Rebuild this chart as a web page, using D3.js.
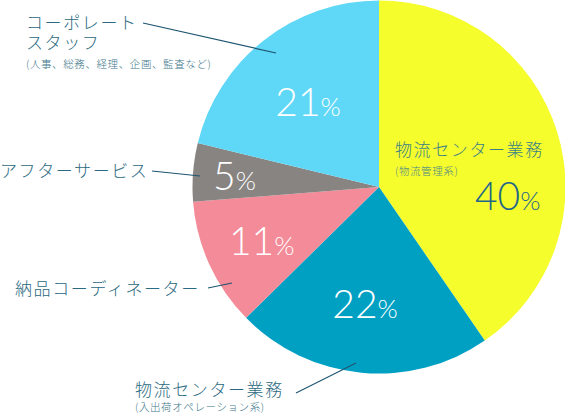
<!DOCTYPE html>
<html>
<head>
<meta charset="utf-8">
<script src="https://cdn.jsdelivr.net/npm/d3@7"></script>
<style>
  body { margin: 0; background: #fff; }
  svg { display: block; }
</style>
</head>
<body>
<div id="chart"></div>
<script>
// données
const categories = ["物流センター業務（物流管理系）", "物流センター業務（入出荷オペレーション系）", "納品コーディネーター", "アフターサービス", "コーポレートスタッフ"];
const values = [40, 22, 11, 5, 21];
const couleurs = ["#f6fd2c", "#00a0c3", "#f38b98", "#878482", "#5fd7f6"];
const couleursPct = ["#1f6688", "#ffffff", "#ffffff", "#ffffff", "#ffffff"];

// libellés : lignes principales + sous-titre
const libelles = [
  ["物流センター業務"],
  ["物流センター業務"],
  ["納品コーディネーター"],
  ["アフターサービス"],
  ["コーポレート", "スタッフ"]
];
const sousLibelles = ["(物流管理系)", "(入出荷オペレーション系)", "", "", "(人事、総務、経理、企画、監査など)"];

// mise en page
const width = 565, height = 416;
const cx = 379, cy = 187, rayon = 186.5;
// position des pourcentages : rayon + décalage d'angle (degrés)
const pctRayon = [129, 117, 129, 145, 111];
const pctDecal = [21, 1.4, 0, 0, -1.5];
// position des libellés extérieurs
const libPos = [[395, 156], [135, 396], [15, 295], [0, 177], [26, 29]];
const sousPos = [[395, 175], [135, 411], null, null, [26, 68]];
// traits de rappel
const traitDepart = [null, [296, 393], [208, 288], [152, 171], [143, 23]];
const traitArrivee = [null, [356, 363], [232, 283], [200, 176], [276, 53]];

const svg = d3.select("#chart")
  .append("svg")
  .attr("width", width)
  .attr("height", height);

const pie = d3.pie().sort(null).value(d => d);
const arcs = pie(values);

const arc = d3.arc().innerRadius(0).outerRadius(rayon);

const g = svg.append("g").attr("transform", `translate(${cx},${cy})`);

g.selectAll("path")
  .data(arcs)
  .enter()
  .append("path")
  .attr("d", arc)
  .attr("fill", (d, i) => couleurs[i]);

// pourcentages
g.selectAll("text.pct")
  .data(arcs)
  .enter()
  .append("text")
  .attr("class", "pct")
  .attr("text-anchor", "middle")
  .attr("font-family", "Lato, 'Open Sans', sans-serif")
  .attr("font-weight", 300)
  .attr("fill", (d, i) => couleursPct[i])
  .attr("x", (d, i) => {
    const a = (d.startAngle + d.endAngle) / 2 + pctDecal[i] * Math.PI / 180;
    return Math.sin(a) * pctRayon[i];
  })
  .attr("y", (d, i) => {
    const a = (d.startAngle + d.endAngle) / 2 + pctDecal[i] * Math.PI / 180;
    return -Math.cos(a) * pctRayon[i] + 14.5;
  })
  .each(function(d) {
    const t = d3.select(this);
    t.append("tspan").attr("font-size", "39px").text(d.data);
    t.append("tspan").attr("font-size", "26px").text("%");
  });

// traits de rappel
svg.selectAll("line.trait")
  .data(arcs.filter((d, i) => traitDepart[i]))
  .enter()
  .append("line")
  .attr("class", "trait")
  .attr("x1", d => traitDepart[d.index][0])
  .attr("y1", d => traitDepart[d.index][1])
  .attr("x2", d => traitArrivee[d.index][0])
  .attr("y2", d => traitArrivee[d.index][1])
  .attr("stroke", "#1d5570")
  .attr("stroke-width", 1.2);

// libellés
const couleurTexte = "#2b6a80";
libelles.forEach((lignes, i) => {
  const t = svg.append("text")
    .attr("x", libPos[i][0])
    .attr("y", libPos[i][1])
    .attr("font-family", "'Noto Sans CJK JP', sans-serif")
    .attr("font-weight", 300)
    .attr("font-size", "17px")
    .attr("letter-spacing", "1.6px")
    .attr("fill", i == 0 ? "#3a7f86" : couleurTexte);
  lignes.forEach((l, j) => {
    t.append("tspan")
      .attr("x", libPos[i][0])
      .attr("dy", j == 0 ? 0 : 19.5)
      .text(l);
  });
  if (sousLibelles[i]) {
    svg.append("text")
      .attr("x", sousPos[i][0])
      .attr("y", sousPos[i][1])
      .attr("font-family", "'Noto Sans CJK JP', sans-serif")
      .attr("font-weight", 300)
      .attr("font-size", "10.5px")
      .attr("letter-spacing", "0.6px")
      .attr("fill", i == 0 ? "#4a868a" : "#3d7689")
      .text(sousLibelles[i]);
  }
});
</script>
</body>
</html>
